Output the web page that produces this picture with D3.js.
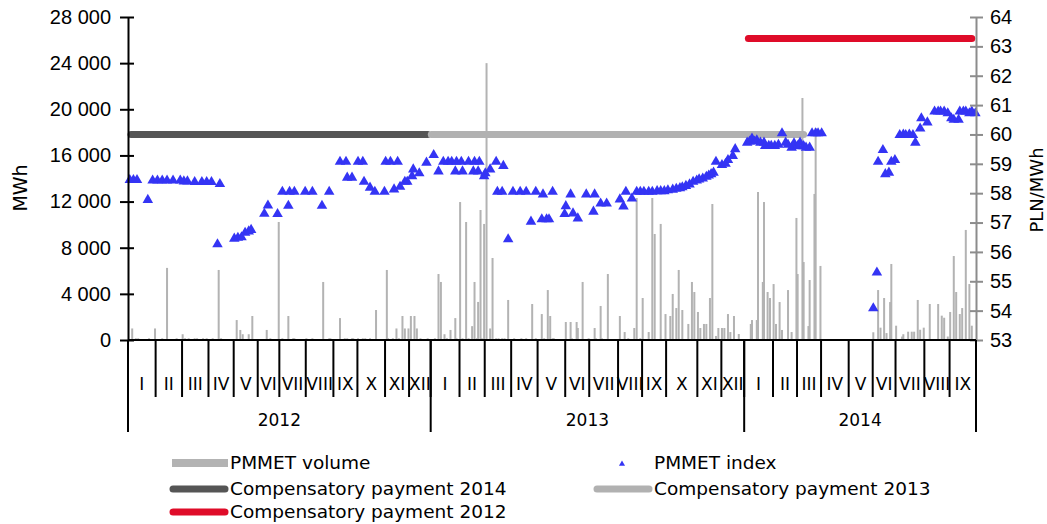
<!DOCTYPE html>
<html>
<head>
<meta charset="utf-8">
<script src="https://cdn.jsdelivr.net/npm/d3@7"></script>
<style>
  body { margin: 0; background: #fff; }
  svg { display: block; font-family: "DejaVu Sans", Verdana, sans-serif; }
</style>
</head>
<body>
<script>
// months and the number of sessions in each one (x axis is by session)
const years = ['2012', '2013', '2014'];
const monthNames = ['I', 'II', 'III', 'IV', 'V', 'VI', 'VII', 'VIII', 'IX', 'X', 'XI', 'XII'];
const sessionsPerMonth = [
  [23, 22, 22, 21, 20, 18, 22, 23, 20, 23, 20, 18],
  [24, 21, 22, 22, 23, 20, 24, 20, 20, 26, 20, 19],
  [24, 20, 20, 23, 20, 19, 24, 21, 22],
];

// [session, MWh]
const volume = [
  [3, 1000], [6, 150], [8, 150], [17, 150], [22, 1000], [28, 150], [32, 6250], [40, 150], [45, 500], [47, 150],
  [50, 150], [55, 150], [57, 150], [62, 150], [65, 150], [70, 150], [75, 6070], [77, 150], [90, 1730], [93, 870],
  [95, 500], [100, 500], [103, 2080], [115, 870], [118, 150], [125, 10230], [128, 150], [133, 2080], [137, 150],
  [138, 150], [148, 150], [153, 150], [162, 5030], [167, 150], [168, 150], [176, 1900], [180, 150], [182, 150],
  [186, 150], [187, 150], [191, 150], [195, 150], [197, 150], [201, 150], [206, 2600], [215, 6070], [216, 150],
  [220, 150], [223, 1000], [225, 150], [228, 2080], [230, 1000], [233, 1000], [235, 2080], [238, 2080], [240, 1000],
  [243, 150], [249, 150],
  [255, 150], [258, 5720], [260, 5030], [263, 500], [265, 150], [268, 870], [272, 1900], [273, 150], [276, 11960],
  [278, 150], [281, 10230], [283, 150], [286, 1200], [288, 5030], [290, 150], [291, 3300], [293, 11270], [294, 150],
  [296, 10060], [298, 24000], [301, 1000], [303, 7110], [306, 150], [308, 150], [311, 150], [313, 150], [316, 3470],
  [321, 150], [327, 150], [331, 150], [336, 3120], [339, 150], [344, 2250], [346, 150], [349, 4330], [351, 2080],
  [353, 150], [354, 150], [364, 1560], [368, 1560], [369, 150], [373, 1560], [374, 1040], [378, 5030], [383, 150],
  [388, 1040], [389, 150], [393, 2950], [394, 150], [399, 5720], [409, 2080], [413, 690], [416, 150], [421, 1040],
  [423, 12310], [426, 150], [428, 3640], [433, 690], [436, 12310], [438, 9190], [443, 10060], [447, 2250],
  [451, 2080], [453, 3990], [456, 2770], [458, 6070], [461, 2600], [466, 1390], [469, 5030], [471, 4160],
  [474, 2430], [476, 1040], [479, 1390], [481, 1390], [484, 3640], [486, 11790], [489, 350], [491, 1040],
  [494, 1040], [496, 1040], [499, 2250], [501, 690], [504, 2080], [508, 520],
  [518, 1390], [519, 1730], [523, 1730], [524, 12830], [528, 5030], [529, 11960], [532, 4160], [534, 3640],
  [537, 4850], [539, 1390], [542, 3290], [544, 870], [549, 4330], [552, 690], [556, 10580], [557, 5720],
  [561, 20980], [562, 6760], [566, 1210], [567, 5200], [571, 12660], [572, 18380], [576, 6420],
  [620, 670], [624, 4330], [626, 1070], [629, 3640], [631, 600], [634, 3290], [635, 6590], [639, 1240], [644, 300],
  [645, 500], [649, 720], [652, 720], [654, 720], [657, 3470], [659, 890], [662, 1070], [667, 3120], [674, 3120],
  [677, 2110], [679, 1930], [682, 300], [684, 2430], [687, 7280], [689, 4160], [692, 2250], [694, 2770],
  [697, 9540], [700, 4850], [702, 1240],
];

// [session, PLN/MWh]
const priceIndex = [
  [1, 58.45], [4, 58.45], [7, 58.45], [16, 57.77], [20, 58.43], [24, 58.43], [28, 58.43], [32, 58.43], [37, 58.43],
  [43, 58.43], [46, 58.4], [49, 58.4], [55, 58.38], [61, 58.38], [65, 58.38], [69, 58.38], [74, 56.26], [76, 58.31],
  [88, 56.45], [91, 56.48], [94, 56.5], [97, 56.65], [100, 56.7], [102, 56.75], [113, 57.3], [116, 57.58],
  [124, 57.29], [128, 58.05], [133, 57.57], [134, 58.05], [138, 58.05], [147, 58.05], [153, 58.05], [161, 57.57],
  [167, 58.05], [176, 59.07], [181, 59.07], [182, 58.53], [186, 58.53], [191, 59.07], [195, 59.07], [196, 58.39],
  [201, 58.19], [205, 58.05], [213, 58.05], [214, 59.07], [218, 59.07], [221, 58.13], [224, 59.07], [226, 58.22],
  [230, 58.39], [232, 58.39], [236, 58.58], [237, 58.81], [242, 58.68], [248, 59.04], [254, 59.3],
  [258, 58.74], [262, 59.07], [266, 59.07], [269, 59.07], [272, 58.74], [273, 59.07], [277, 59.07], [278, 58.74],
  [283, 59.07], [287, 58.74], [288, 59.07], [291, 58.74], [292, 59.07], [296, 58.58], [297, 58.68], [301, 58.81],
  [306, 59.07], [307, 58.05], [311, 58.05], [312, 58.93], [316, 56.43], [320, 58.05], [326, 58.05], [331, 58.05],
  [335, 57.03], [339, 58.05], [344, 57.11], [345, 57.96], [348, 57.11], [350, 57.11], [353, 58.05], [363, 57.29],
  [364, 57.56], [368, 57.96], [370, 57.31], [374, 57.14], [381, 57.96], [387, 57.37], [388, 57.96], [393, 57.65],
  [398, 57.65], [409, 57.79], [412, 57.55], [414, 58.05], [419, 57.82], [423, 58.05], [426, 58.05], [429, 58.05],
  [433, 58.05], [436, 58.05], [440, 58.07], [443, 58.07], [446, 58.07], [449, 58.1], [453, 58.12], [456, 58.15],
  [459, 58.17], [461, 58.2], [464, 58.25], [467, 58.3], [470, 58.39], [473, 58.43], [475, 58.47], [478, 58.5],
  [481, 58.56], [483, 58.6], [485, 58.65], [487, 58.7], [489, 59.07], [494, 58.96], [497, 59.0], [499, 59.13],
  [503, 59.27], [505, 59.5],
  [515, 59.72], [517, 59.76], [519, 59.86], [521, 59.76], [523, 59.8], [526, 59.72], [529, 59.72], [530, 59.61],
  [533, 59.61], [535, 59.61], [538, 59.61], [541, 59.65], [544, 60.04], [547, 59.72], [549, 59.65], [552, 59.55],
  [554, 59.7], [557, 59.6], [559, 59.72], [562, 59.6], [564, 59.55], [567, 59.55], [569, 60.04], [572, 60.04],
  [574, 60.04], [577, 60.04],
  [620, 54.08], [623, 55.3], [624, 59.07], [628, 59.47], [630, 58.65], [633, 58.7], [635, 59.07], [638, 59.13],
  [642, 59.98], [645, 60.0], [647, 59.98], [650, 60.0], [653, 59.98], [655, 59.72], [659, 60.2], [660, 60.55],
  [665, 60.41], [671, 60.78], [674, 60.78], [676, 60.78], [679, 60.78], [682, 60.72], [685, 60.55], [687, 60.5],
  [691, 60.5], [692, 60.78], [695, 60.78], [697, 60.78], [700, 60.72], [702, 60.78], [705, 60.72],
];

// compensatory payments: [first session, last session, PLN/MWh]
const compNames = ['Compensatory payment 2014', 'Compensatory payment 2013', 'Compensatory payment 2012'];
const compSpans = [[2, 249], [252, 562], [516, 702]];
const compValues = [60.0, 60.0, 63.27];

const volumeTicks = d3.range(0, 28001, 4000);
const priceTicks = d3.range(53, 65, 1);

const compColors = ['#555555', '#b1b1b1', '#df0c29'];
const barColor = '#b3b3b3';
const pointColor = '#3434f4';

const width = 1047;
const height = 524;
const margin = { top: 17, right: 71, bottom: 184, left: 128 };
const plotW = width - margin.left - margin.right;
const plotH = height - margin.top - margin.bottom;

const nSessions = d3.sum(sessionsPerMonth.flat());

const x = d3.scaleBand()
  .domain(d3.range(nSessions))
  .range([0, plotW]);

const yLeft = d3.scaleLinear().domain([0, 28000]).range([plotH, 0]);
const yRight = d3.scaleLinear().domain([53, 64]).range([plotH, 0]);

const fmt = d3.formatLocale({ decimal: ',', thousands: '\u00a0', grouping: [3], currency: ['', ''] }).format(',d');

const svg = d3.select('body').append('svg')
  .attr('width', width)
  .attr('height', height);

const g = svg.append('g')
  .attr('transform', `translate(${margin.left},${margin.top})`);

// bars
g.append('g').selectAll('rect')
  .data(volume)
  .enter().append('rect')
    .attr('x', d => x(d[0]) + x.bandwidth() / 2 - 1)
    .attr('y', d => yLeft(d[1]))
    .attr('width', 2)
    .attr('height', d => plotH - yLeft(d[1]))
    .attr('fill', barColor);

// compensatory lines
g.append('g').selectAll('line')
  .data(compNames)
  .enter().append('line')
    .attr('x1', (d, i) => x(compSpans[i][0]) + x.bandwidth() / 2)
    .attr('x2', (d, i) => x(compSpans[i][1]) + x.bandwidth() / 2)
    .attr('y1', (d, i) => yRight(compValues[i]))
    .attr('y2', (d, i) => yRight(compValues[i]))
    .attr('stroke', (d, i) => compColors[i])
    .attr('stroke-width', 7)
    .attr('stroke-linecap', 'round');

// index points
const tri = d3.symbol().type(d3.symbolTriangle).size(48);
g.append('g').selectAll('path')
  .data(priceIndex)
  .enter().append('path')
    .attr('d', tri)
    .attr('transform', d => `translate(${x(d[0]) + x.bandwidth() / 2},${yRight(d[1])})`)
    .attr('fill', pointColor);

// left axis
const leftAxis = g.append('g')
  .call(d3.axisLeft(yLeft).tickValues(volumeTicks).tickFormat(fmt).tickSize(0).tickPadding(17));
leftAxis.select('.domain').attr('stroke', '#000').attr('stroke-width', 2);
leftAxis.selectAll('.tick text').attr('font-size', 20).attr('fill', '#000');
leftAxis.selectAll('.tick').append('line')
  .attr('x1', -8).attr('x2', 6).attr('stroke', '#000').attr('stroke-width', 2);

// right axis
const rightAxis = g.append('g')
  .attr('transform', `translate(${plotW},0)`)
  .call(d3.axisRight(yRight).tickValues(priceTicks).tickSize(0).tickPadding(14));
rightAxis.select('.domain').attr('stroke', '#8c8c8c').attr('stroke-width', 2);
rightAxis.selectAll('.tick text').attr('font-size', 20).attr('fill', '#000');
rightAxis.selectAll('.tick').append('line')
  .attr('x1', -6).attr('x2', 7).attr('stroke', '#8c8c8c').attr('stroke-width', 2);

// bottom axis: months and years
g.append('line')
  .attr('x1', 0).attr('x2', plotW).attr('y1', plotH).attr('y2', plotH)
  .attr('stroke', '#000').attr('stroke-width', 2);

const months = [];
const yearSpans = [];
let start = 0;
sessionsPerMonth.forEach((list, yi) => {
  const yStart = start;
  list.forEach((n, mi) => {
    months.push({ name: monthNames[mi], from: start, to: start + n });
    start += n;
  });
  yearSpans.push({ name: years[yi], from: yStart, to: start });
});
const edge = s => (s >= nSessions ? plotW : x(s));

const axisG = g.append('g').attr('transform', `translate(0,${plotH})`);
axisG.selectAll('.mline')
  .data(months)
  .enter().append('line')
    .attr('x1', d => edge(d.from)).attr('x2', d => edge(d.from))
    .attr('y1', 0).attr('y2', 57)
    .attr('stroke', '#000').attr('stroke-width', 2);
axisG.append('line')
  .attr('x1', plotW).attr('x2', plotW).attr('y1', 0).attr('y2', 57)
  .attr('stroke', '#000').attr('stroke-width', 2);
axisG.selectAll('.mtext')
  .data(months)
  .enter().append('text')
    .attr('x', d => (edge(d.from) + edge(d.to)) / 2)
    .attr('y', 50)
    .attr('text-anchor', 'middle')
    .attr('font-size', 17)
    .text(d => d.name);
axisG.selectAll('.yline')
  .data(yearSpans)
  .enter().append('line')
    .attr('x1', d => edge(d.from)).attr('x2', d => edge(d.from))
    .attr('y1', 0).attr('y2', 92)
    .attr('stroke', '#000').attr('stroke-width', 2);
axisG.append('line')
  .attr('x1', plotW).attr('x2', plotW).attr('y1', 0).attr('y2', 92)
  .attr('stroke', '#000').attr('stroke-width', 2);
axisG.selectAll('.ytext')
  .data(yearSpans)
  .enter().append('text')
    .attr('x', d => (edge(d.from) + edge(d.to)) / 2)
    .attr('y', 86)
    .attr('text-anchor', 'middle')
    .attr('font-size', 17)
    .text(d => d.name);

// axis titles
svg.append('text')
  .attr('transform', 'translate(27,188) rotate(-90)')
  .attr('text-anchor', 'middle')
  .attr('font-size', 19)
  .text('MWh');
svg.append('text')
  .attr('transform', 'translate(1043,190) rotate(-90)')
  .attr('text-anchor', 'middle')
  .attr('font-size', 18)
  .text('PLN/MWh');

// legend
const legend = svg.append('g').attr('font-size', 18.5);
const rowY = [463, 489, 512];

legend.append('rect')
  .attr('x', 172).attr('y', rowY[0] - 4).attr('width', 56).attr('height', 8)
  .attr('fill', barColor);
legend.append('text').attr('x', 230).attr('y', rowY[0]).attr('dy', '0.35em').text('PMMET volume');

legend.append('path')
  .attr('d', d3.symbol().type(d3.symbolTriangle).size(16))
  .attr('transform', `translate(622,${rowY[0] + 1})`)
  .attr('fill', pointColor);
legend.append('text').attr('x', 654).attr('y', rowY[0]).attr('dy', '0.35em').text('PMMET index');

const legendPos = [[170, rowY[1]], [594, rowY[1]], [170, rowY[2]]];
compNames.forEach((name, i) => {
  const [lx, ly] = legendPos[i];
  legend.append('line')
    .attr('x1', lx + 3).attr('x2', lx + 55).attr('y1', ly).attr('y2', ly)
    .attr('stroke', compColors[i]).attr('stroke-width', 7).attr('stroke-linecap', 'round');
  legend.append('text').attr('x', lx + 60).attr('y', ly).attr('dy', '0.35em').text(name);
});
</script>
</body>
</html>
